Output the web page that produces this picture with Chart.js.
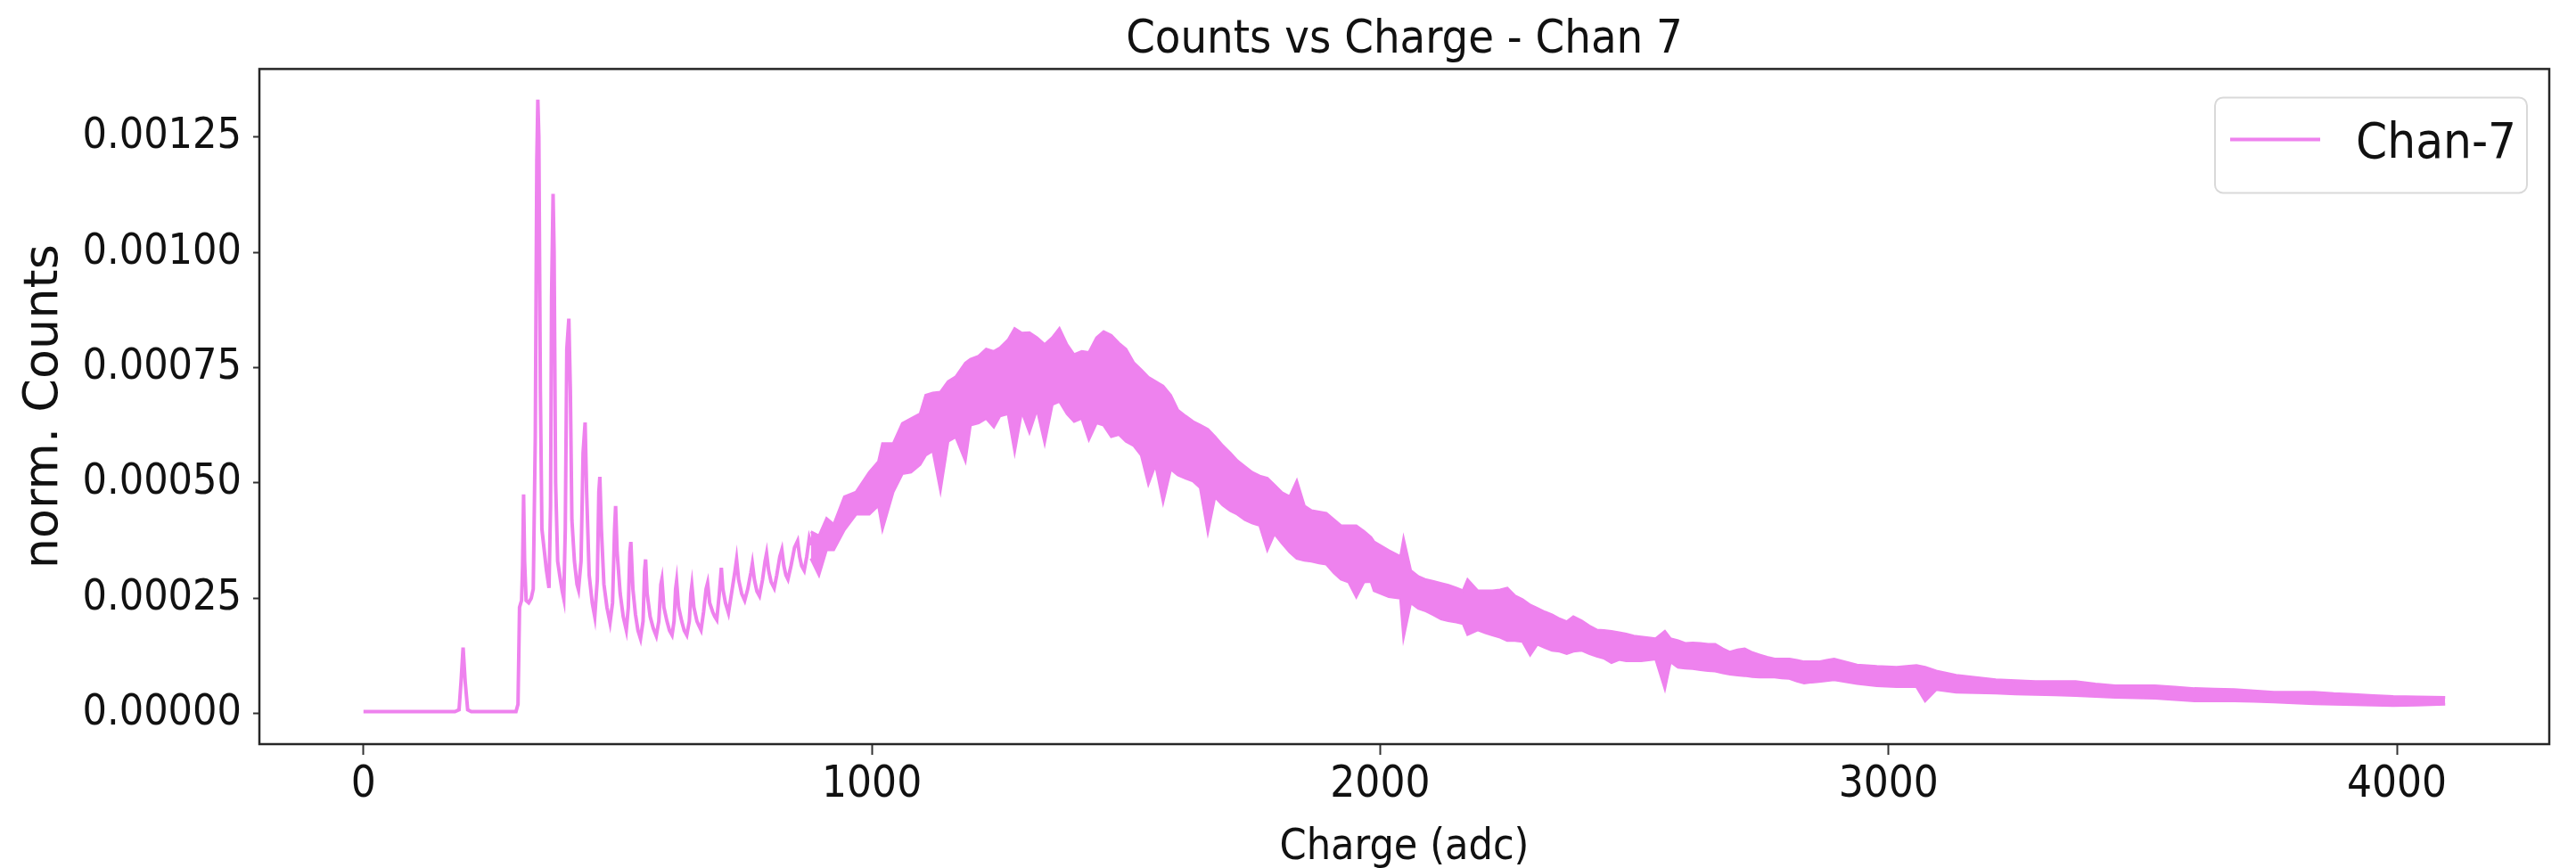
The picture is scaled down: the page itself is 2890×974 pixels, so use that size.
<!DOCTYPE html>
<html>
<head>
<meta charset="utf-8">
<script src="https://cdn.jsdelivr.net/npm/chart.js@4.4.1/dist/chart.umd.min.js"></script>
<style>
  html, body { margin: 0; padding: 0; background: #fff; }
</style>
</head>
<body>
<canvas id="myChart" width="2890" height="974"></canvas>
<script>
// counts in units of 1e-6 (norm. counts)
// low charge part: pedestal and the photo-electron peaks, drawn as a single trace
const lowCharge = [0, 180, 188, 192, 196, 200, 205, 212, 300, 304, 307, 311, 313, 315, 317, 320, 325, 330, 334,
  338, 341, 343, 345, 348, 351, 355, 360, 365, 368, 370, 373, 375, 378, 382, 386, 391, 394, 397, 400, 404,
  407, 410, 415, 420, 423, 428, 432, 436, 439, 444, 450, 455, 460, 463, 465, 468, 473, 479, 485, 490, 494,
  496, 499, 505, 511, 517, 521, 524, 526, 530, 535, 540, 545, 550, 553, 555, 558, 564, 570, 576, 581, 585,
  587, 591, 597, 602, 607, 611, 614, 616, 620, 626, 631, 636, 641, 644, 646, 650, 656, 660, 664, 669, 674,
  677, 681, 687, 691, 695, 700, 704, 707, 712, 718, 724, 731, 734, 738, 744, 750, 756, 762, 765, 769, 774,
  779, 785, 790, 793, 797, 802, 808, 813, 819, 823, 827, 831, 835, 841, 848, 854, 858, 862, 867, 872, 877, 881];
const lowCounts = [4, 4, 8, 70, 143, 70, 8, 4, 4, 20, 230, 245, 320, 475, 330, 245, 240, 250, 270,
  600, 1200, 1331, 1250, 700, 400, 360, 310, 272, 450, 900, 1127, 1000, 500, 330, 300, 265, 249, 400, 790, 856,
  700, 420, 330, 280, 268, 330, 565, 631, 480, 300, 240, 210, 290, 480, 513, 400, 280, 230, 197, 240, 400,
  450, 350, 260, 210, 181, 230, 350, 372, 270, 215, 180, 162, 200, 310, 334, 260, 210, 185, 168, 200, 280,
  291, 230, 200, 180, 170, 200, 270, 287, 230, 200, 180, 170, 200, 260, 278, 230, 200, 190, 181, 220, 270,
  283, 240, 220, 210, 203, 260, 316, 270, 240, 218, 260, 310, 334, 290, 260, 245, 270, 305, 325, 290, 265,
  255, 290, 330, 347, 310, 285, 272, 300, 340, 355, 320, 300, 291, 320, 360, 374, 340, 320, 310, 340, 380, 365];

// noisy part above ~880 adc: upper and lower edge of the trace
const bandCharge = [880, 896, 911, 925, 946, 969, 995, 1013, 1021, 1042, 1060, 1077, 1095, 1106, 1120, 1135,
  1150, 1165, 1184, 1194, 1210, 1225, 1240, 1252, 1268, 1281, 1295, 1310, 1325, 1340, 1355, 1369, 1384, 1398,
  1413, 1427, 1442, 1456, 1471, 1486, 1500, 1515, 1530, 1544, 1558, 1573, 1588, 1602, 1617, 1632, 1646, 1661,
  1675, 1690, 1705, 1719, 1734, 1748, 1763, 1778, 1792, 1807, 1822, 1836, 1851, 1865, 1880, 1894, 1909, 1923,
  1938, 1953, 1968, 1982, 1988, 2017, 2040, 2046, 2060, 2075, 2090, 2105, 2120, 2134, 2150, 2163, 2172, 2192,
  2207, 2221, 2236, 2250, 2265, 2280, 2295, 2309, 2324, 2338, 2353, 2367, 2380, 2396, 2411, 2426, 2440, 2455,
  2470, 2484, 2499, 2513, 2528, 2542, 2560, 2571, 2586, 2600, 2615, 2630, 2645, 2659, 2674, 2688, 2703, 2717,
  2732, 2746, 2761, 2776, 2790, 2805, 2820, 2834, 2849, 2863, 2878, 2893, 2938, 2977, 3016, 3055, 3072, 3094,
  3133, 3172, 3211, 3250, 3289, 3328, 3368, 3407, 3446, 3485, 3524, 3563, 3602, 3641, 3680, 3719, 3758, 3797,
  3837, 3876, 3915, 3954, 3993, 4040, 4095];
const bandHigh = [394, 385, 423, 410, 470, 480, 523, 546, 585, 585, 629, 639, 650, 690, 695, 697,
  720, 730, 760, 768, 775, 790, 785, 793, 810, 835, 825, 826, 815, 800, 815, 835, 800, 778,
  785, 783, 815, 828, 820, 803, 790, 761, 745, 729, 720, 710, 690, 658, 645, 633, 625, 616,
  600, 581, 565, 548, 535, 523, 515, 510, 495, 479, 470, 504, 450, 440, 437, 434, 420, 407,
  407, 407, 395, 382, 372, 353, 340, 378, 310, 297, 290, 286, 282, 278, 272, 266, 290, 266,
  266, 266, 268, 272, 255, 247, 235, 228, 220, 214, 205, 199, 210, 201, 190, 181, 180, 178,
  175, 172, 168, 166, 164, 162, 178, 162, 158, 152, 153, 152, 150, 150, 140, 133, 138, 140,
  132, 127, 122, 118, 118, 118, 115, 112, 112, 112, 115, 118, 105, 102, 100, 104, 100, 92,
  83, 78, 73, 71, 69, 69, 69, 64, 60, 60, 60, 57, 54, 53, 52, 49, 46, 46,
  46, 43, 41, 39, 37, 36, 35];
const bandLow = [336, 300, 355, 355, 398, 432, 432, 451, 400, 480, 520, 523, 540, 560, 570, 484,
  590, 600, 548, 625, 630, 640, 621, 645, 650, 568, 655, 610, 660, 587, 670, 677, 650, 633,
  640, 594, 630, 625, 600, 605, 590, 581, 560, 498, 540, 459, 530, 517, 510, 504, 490, 394,
  470, 452, 440, 432, 420, 413, 408, 355, 390, 369, 350, 336, 332, 330, 326, 324, 305, 291,
  285, 253, 285, 286, 266, 253, 250, 166, 240, 228, 222, 214, 205, 201, 198, 195, 171, 181,
  175, 170, 165, 158, 158, 156, 127, 150, 143, 137, 135, 130, 135, 137, 130, 124, 120, 110,
  117, 114, 114, 114, 116, 118, 54, 112, 100, 98, 97, 95, 93, 92, 88, 85, 83, 82,
  80, 79, 79, 79, 77, 76, 70, 66, 68, 69, 71, 73, 65, 60, 58, 58, 27, 52,
  46, 45, 44, 42, 41, 40, 39, 37, 35, 34, 33, 30, 27, 27, 27, 26, 25, 23,
  21, 20, 19, 18, 17, 18, 20];

const xTicks = [0, 1000, 2000, 3000, 4000];
const yTicks = [0, 0.00025, 0.0005, 0.00075, 0.001, 0.00125];

const violet = '#ee82ee';
const narrow = "'DejaVu Sans Condensed', 'Liberation Sans Narrow', 'DejaVu Sans', sans-serif";

function toPoints(xs, ys) {
  return xs.map((x, i) => ({ x: x, y: ys[i] / 1e6 }));
}

// matplotlib style full box around the plot
const frame = {
  id: 'frame',
  afterDraw(chart) {
    const a = chart.chartArea;
    const ctx = chart.ctx;
    ctx.save();
    ctx.strokeStyle = '#262626';
    ctx.lineWidth = 2.5;
    ctx.strokeRect(a.left, a.top, a.right - a.left, a.bottom - a.top);
    ctx.restore();
  }
};

// legend box inside the plot, top right
const boxLegend = {
  id: 'boxLegend',
  afterDraw(chart) {
    const a = chart.chartArea;
    const ctx = chart.ctx;
    const ds = chart.data.datasets[0];
    const x0 = a.right - 375, y0 = a.top + 32;
    ctx.save();
    ctx.beginPath();
    ctx.roundRect(x0, y0, 350, 107, 9);
    ctx.fillStyle = 'rgba(255,255,255,0.8)';
    ctx.fill();
    ctx.strokeStyle = '#d9d9d9';
    ctx.lineWidth = 2;
    ctx.stroke();
    ctx.beginPath();
    ctx.moveTo(x0 + 17, y0 + 47);
    ctx.lineTo(x0 + 118, y0 + 47);
    ctx.strokeStyle = ds.borderColor;
    ctx.lineWidth = 4;
    ctx.stroke();
    ctx.font = '56px ' + narrow;
    ctx.fillStyle = '#111';
    ctx.textBaseline = 'middle';
    ctx.fillText(ds.label, x0 + 158, y0 + 53);
    ctx.restore();
  }
};

Chart.defaults.font.family = narrow;
Chart.defaults.color = '#111';

new Chart(document.getElementById('myChart').getContext('2d'), {
  type: 'line',
  data: {
    datasets: [
      { label: 'Chan-7', data: toPoints(lowCharge, lowCounts), borderColor: violet, borderWidth: 4,
        pointRadius: 0, fill: false },
      { label: 'band high', data: toPoints(bandCharge, bandHigh), borderColor: violet, borderWidth: 3,
        pointRadius: 0, fill: '+1', backgroundColor: violet },
      { label: 'band low', data: toPoints(bandCharge, bandLow), borderColor: violet, borderWidth: 3,
        pointRadius: 0, fill: false }
    ]
  },
  options: {
    responsive: false,
    animation: false,
    layout: { padding: { left: 0, right: 30, top: 0, bottom: 0 } },
    plugins: {
      legend: { display: false },
      tooltip: { enabled: false },
      title: {
        display: true,
        fullSize: false,
        text: 'Counts vs Charge - Chan 7',
        color: '#111',
        font: { size: 52, weight: 'normal' },
        padding: { top: 14, bottom: 1 }
      }
    },
    scales: {
      x: {
        type: 'linear',
        bounds: 'data',
        min: -204.75,
        max: 4299.75,
        afterBuildTicks: s => { s.ticks = xTicks.map(v => ({ value: v })); },
        afterFit: s => { s.height = 139; },
        grid: { drawOnChartArea: false, drawTicks: true, tickLength: 12, tickWidth: 2, tickColor: '#333' },
        border: { display: false },
        ticks: { padding: 5, maxRotation: 0, autoSkip: false, font: { size: 49 }, callback: v => String(v) },
        title: { display: true, text: 'Charge (adc)', font: { size: 48 }, padding: { top: 0, bottom: -6 } }
      },
      y: {
        type: 'linear',
        bounds: 'data',
        min: -0.00006655,
        max: 0.0013976,
        afterBuildTicks: s => { s.ticks = yTicks.map(v => ({ value: v })); },
        afterFit: s => { s.width = 291; },
        grid: { drawOnChartArea: false, drawTicks: true, tickLength: 7, tickWidth: 2, tickColor: '#333' },
        border: { display: false },
        ticks: { padding: 13, autoSkip: false, font: { size: 48 }, callback: v => v.toFixed(5) },
        title: { display: true, text: 'norm. Counts', font: { family: "'DejaVu Sans', sans-serif", size: 54 },
          padding: { top: 18, bottom: 0 } }
      }
    }
  },
  plugins: [frame, boxLegend]
});
</script>
</body>
</html>
